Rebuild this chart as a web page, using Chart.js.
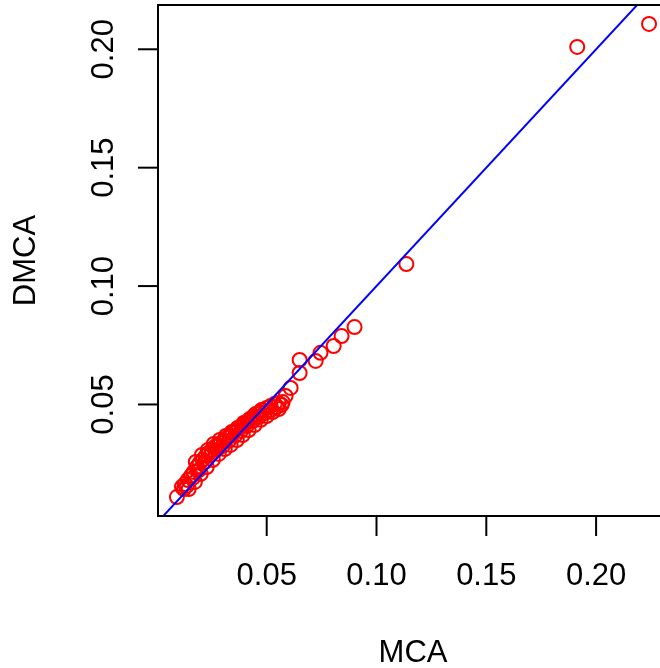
<!DOCTYPE html>
<html>
<head>
<meta charset="utf-8">
<script src="https://cdn.jsdelivr.net/npm/chart.js@4"></script>
<style>
  html, body { margin: 0; padding: 0; background: #fff; overflow: hidden; }
  #chart { display: block; }
</style>
</head>
<body>
<canvas id="chart" width="660" height="668"></canvas>
<script>
//-------------------- DATA --------------------
const mca = [
  0.0091, 0.0114, 0.0123, 0.0127, 0.0136, 0.0141, 0.0145, 0.0155, 0.0164, 0.0168,
  0.0173, 0.0177, 0.0182, 0.0191, 0.0195, 0.0200, 0.0205, 0.0209, 0.0218, 0.0223,
  0.0227, 0.0232, 0.0236, 0.0245, 0.0250, 0.0255, 0.0259, 0.0264, 0.0273, 0.0277,
  0.0282, 0.0286, 0.0291, 0.0300, 0.0305, 0.0309, 0.0314, 0.0318, 0.0327, 0.0332,
  0.0336, 0.0341, 0.0345, 0.0355, 0.0359, 0.0364, 0.0368, 0.0373, 0.0382, 0.0386,
  0.0391, 0.0395, 0.0400, 0.0409, 0.0414, 0.0418, 0.0423, 0.0427, 0.0436, 0.0441,
  0.0445, 0.0450, 0.0455, 0.0464, 0.0468, 0.0473, 0.0477, 0.0482, 0.0491, 0.0500,
  0.0500, 0.0518, 0.0518, 0.0527, 0.0536, 0.0545, 0.0555, 0.0555, 0.0568, 0.0573,
  0.0586, 0.0609, 0.0650, 0.0650, 0.0723, 0.0745, 0.0805, 0.0841, 0.0900, 0.1136,
  0.1914, 0.2241
];
const dmca = [
  0.0109, 0.0152, 0.0143, 0.0164, 0.0156, 0.0181, 0.0143, 0.0198, 0.0190, 0.0215,
  0.0173, 0.0257, 0.0236, 0.0223, 0.0253, 0.0207, 0.0287, 0.0266, 0.0257, 0.0283,
  0.0236, 0.0308, 0.0295, 0.0287, 0.0308, 0.0266, 0.0333, 0.0321, 0.0308, 0.0329,
  0.0291, 0.0350, 0.0337, 0.0325, 0.0346, 0.0312, 0.0367, 0.0359, 0.0346, 0.0367,
  0.0329, 0.0384, 0.0380, 0.0367, 0.0392, 0.0350, 0.0401, 0.0401, 0.0388, 0.0409,
  0.0371, 0.0422, 0.0418, 0.0409, 0.0430, 0.0392, 0.0439, 0.0439, 0.0430, 0.0451,
  0.0413, 0.0460, 0.0460, 0.0447, 0.0468, 0.0435, 0.0477, 0.0477, 0.0464, 0.0485,
  0.0451, 0.0494, 0.0477, 0.0468, 0.0502, 0.0489, 0.0506, 0.0481, 0.0498, 0.0510,
  0.0536, 0.0570, 0.0633, 0.0688, 0.0684, 0.0718, 0.0747, 0.0789, 0.0827, 0.1093,
  0.2010, 0.2107
];
const xTicks = [0.05, 0.10, 0.15, 0.20];
const yTicks = [0.05, 0.10, 0.15, 0.20];
const xRange = [0.0005, 0.2291];
const yRange = [0.0029, 0.2187];
// reference line abline(a, b)
const lineIntercept = 0;
const lineSlope = 1;

//-------------------- CONFIG --------------------
const FONT = '31px "Liberation Sans", Arial, sans-serif';

const rAxes = {
  id: 'rAxes',
  afterDraw(chart) {
    const { ctx, chartArea: a, scales: { x, y } } = chart;
    ctx.save();
    ctx.strokeStyle = '#000';
    ctx.lineWidth = 2;
    // box runs past the right edge of the window, so no right side
    ctx.beginPath();
    ctx.moveTo(chart.width, a.top);
    ctx.lineTo(a.left, a.top);
    ctx.lineTo(a.left, a.bottom);
    ctx.lineTo(chart.width, a.bottom);
    ctx.stroke();
    ctx.fillStyle = '#000';
    ctx.font = FONT;
    ctx.textAlign = 'center';
    ctx.textBaseline = 'alphabetic';

    xTicks.forEach(v => {
      const px = x.getPixelForValue(v);
      ctx.beginPath();
      ctx.moveTo(px, a.bottom);
      ctx.lineTo(px, a.bottom + 20);
      ctx.stroke();
      ctx.fillText(v.toFixed(2), px, 585);
    });
    yTicks.forEach(v => {
      const py = y.getPixelForValue(v);
      ctx.beginPath();
      ctx.moveTo(a.left - 20, py);
      ctx.lineTo(a.left, py);
      ctx.stroke();
      ctx.save();
      ctx.translate(113, py);
      ctx.rotate(-Math.PI / 2);
      ctx.fillText(v.toFixed(2), 0, 0);
      ctx.restore();
    });

    ctx.fillText('MCA', 413, 662);
    ctx.save();
    ctx.translate(35, (a.top + a.bottom) / 2);
    ctx.rotate(-Math.PI / 2);
    ctx.fillText('DMCA', 0, 0);
    ctx.restore();
    ctx.restore();
  }
};

const config = {
  type: 'scatter',
  data: {
    datasets: [
      {
        type: 'line',
        order: 0,
        data: xRange.map(v => ({ x: v, y: lineIntercept + lineSlope * v })),
        borderColor: '#0000ff',
        borderWidth: 2,
        pointRadius: 0,
        fill: false
      },
      {
        order: 1,
        data: mca.map((v, i) => ({ x: v, y: dmca[i] })),
        borderColor: '#ff0000',
        backgroundColor: 'rgba(0,0,0,0)',
        borderWidth: 2,
        pointRadius: 7,
        pointHoverRadius: 7
      }
    ]
  },
  options: {
    responsive: false,
    animation: false,
    events: [],
    layout: { autoPadding: false, padding: { left: 158, top: 5, right: 0, bottom: 152 } },
    plugins: { legend: { display: false }, tooltip: { enabled: false } },
    scales: {
      x: { type: 'linear', display: false, min: xRange[0], max: xRange[1] },
      y: { type: 'linear', display: false, min: yRange[0], max: yRange[1] }
    }
  },
  plugins: [rAxes]
};

//-------------------- RENDER --------------------
const myChart = new Chart(document.getElementById('chart'), config);
</script>
</body>
</html>
